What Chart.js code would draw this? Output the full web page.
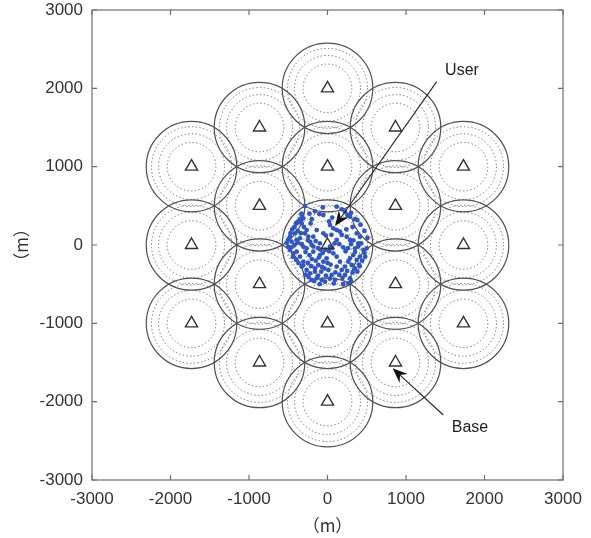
<!DOCTYPE html>
<html>
<head>
<meta charset="utf-8">
<script src="https://cdn.jsdelivr.net/npm/chart.js@4.4.1/dist/chart.umd.min.js"></script>
<style>
  html, body { margin: 0; padding: 0; background: #fff; }
  #wrap { width: 591px; height: 538px; }
</style>
</head>
<body>
<div id="wrap"><canvas id="c" width="591" height="538"></canvas></div>
<script>
// ---- data ----
const axisTicks = [-3000, -2000, -1000, 0, 1000, 2000, 3000];
const baseX = [0, 0, 0, 0, 0, 866, 866, -866, -866, 866, 866, -866, -866, 1732, 1732, 1732, -1732, -1732, -1732];
const baseY = [0, 1000, -1000, 2000, -2000, 500, -500, 500, -500, 1500, -1500, 1500, -1500, 0, 1000, -1000, 0, 1000, -1000];
const cellRadius = 577;
const ringRadii = [510, 420, 310];
const userX = [-287, -104, -53, 117, 181, 223, 253, 287, 380, -329, -351, -372, -393, -329, -308, -215, -266, -287, -414, -478, -499, -457, -393, -351, -244, 32, 74, 117, 159, 181, 244, 287, 117, 32, -53, -138, -181, -96, -202, 372, 414, 393, 457, 499, 351, 329, 287, 266, 308, 372, 414, 223, 181, 223, 287, 266, -478, -436, -393, -351, -308, -329, -266, -223, -202, -138, -74, -32, -159, -117, -53, -11, -96, -181, -266, -308, 11, 53, 96, 117, 159, 117, 74,
  -450, -420, -380, -340, -300, -250, -220, -180, -150, -120, -90, -60, -30, 20, 60, 90, 150, 200, 230, 260, 300, 330, 350, 390, 430, 470, 440, 400, 350, 320, 250, 190, 150, 100, 40, 0, -40, -80, -120, -170, -240, -280, -370, -400, -440, -500, -520, -460, -420, -380, -330, -280, -230, -200, -150, -110, -70, -20, 30, 80, -250, -310, -210, -160, -100, 200, 300, 380, 410, 480, 510, 470, 420, 350, 300, -200, -160, -60, 20, 60, -20, 50, 240, 320, -330, -400, -470, -230];
const userY = [497, 395, 383, 489, 455, 425, 383, 361, 319, 383, 327, 298, 276, 276, 340, 276, 191, 149, 149, 106, 72, 43, 64, 85, 106, 255, 213, 191, 170, 128, 106, 64, 64, -21, 149, 191, 106, 21, 0, 149, 106, 21, -64, -43, -43, -128, -170, -213, -255, -191, -149, -276, -319, -383, -425, -489, -64, -106, -85, -149, -213, -276, -319, -361, -446, -425, -446, -468, -298, -255, -213, -170, -128, -85, -43, -21, -319, -383, -446, -276, -213, -149, -106,
  200, 230, 180, 150, 230, 60, 40, -20, 50, -40, -60, -100, -60, -80, -40, 20, 10, -30, -80, -40, 10, 60, -90, -20, 20, -100, -200, -250, -300, -350, -330, -420, -380, -350, -250, -230, -300, -340, -390, -460, -410, -380, -230, -190, -150, -20, 30, -30, 0, 30, 10, -90, -130, -180, -200, -160, -280, -390, -430, -490, -230, -260, -270, -340, -500, -500, -460, -340, -270, -150, 90, 180, 260, 330, 410, 330, 430, 480, 300, 350, 120, 130, 200, 230, 400, 280, 150, 400];
const notes = [
  { text: 'User', from: [1391, 2085], to: [96, 243], label: [1713, 2221] },
  { text: 'Base', from: [1475, -2170], to: [830, -1574], label: [1815, -2336] }
];
const axisTitle = '（m）';

// ---- chart ----
const FONT = '"Liberation Sans", Arial, Helvetica, sans-serif';
const CJK = '"Noto Sans CJK SC", "Liberation Sans", sans-serif';

const drawPlugin = {
  id: 'cells',
  beforeDatasetsDraw(chart) {
    const { ctx, chartArea: a } = chart;
    const xs = chart.scales.x, ys = chart.scales.y;
    ctx.save();
    ctx.beginPath();
    ctx.rect(a.left, a.top, a.right - a.left, a.bottom - a.top);
    ctx.clip();
    for (let i = 0; i < baseX.length; i++) {
      const cx = xs.getPixelForValue(baseX[i]);
      const cy = ys.getPixelForValue(baseY[i]);
      ctx.strokeStyle = '#6a6a6a';
      ctx.lineWidth = 1;
      ctx.setLineDash([1.3, 2.4]);
      for (const r of ringRadii) {
        const rx = xs.getPixelForValue(baseX[i] + r) - cx;
        const ry = cy - ys.getPixelForValue(baseY[i] + r);
        ctx.beginPath();
        ctx.ellipse(cx, cy, rx, ry, 0, 0, Math.PI * 2);
        ctx.stroke();
      }
      ctx.setLineDash([]);
      ctx.strokeStyle = '#505050';
      ctx.lineWidth = 1.2;
      const rx = xs.getPixelForValue(baseX[i] + cellRadius) - cx;
      const ry = cy - ys.getPixelForValue(baseY[i] + cellRadius);
      ctx.beginPath();
      ctx.ellipse(cx, cy, rx, ry, 0, 0, Math.PI * 2);
      ctx.stroke();
    }
    ctx.restore();
  },
  afterDatasetsDraw(chart) {
    const { ctx, chartArea: a } = chart;
    const xs = chart.scales.x, ys = chart.scales.y;
    ctx.save();
    ctx.strokeStyle = '#6e6e6e';
    ctx.lineWidth = 1.2;
    ctx.strokeRect(a.left, a.top, a.right - a.left, a.bottom - a.top);
    const tl = 5;
    ctx.beginPath();
    for (const v of axisTicks) {
      const px = xs.getPixelForValue(v);
      ctx.moveTo(px, a.bottom); ctx.lineTo(px, a.bottom - tl);
      ctx.moveTo(px, a.top); ctx.lineTo(px, a.top + tl);
      const py = ys.getPixelForValue(v);
      ctx.moveTo(a.left, py); ctx.lineTo(a.left + tl, py);
      ctx.moveTo(a.right, py); ctx.lineTo(a.right - tl, py);
    }
    ctx.stroke();
    for (const n of notes) {
      const x0 = xs.getPixelForValue(n.from[0]), y0 = ys.getPixelForValue(n.from[1]);
      const x1 = xs.getPixelForValue(n.to[0]), y1 = ys.getPixelForValue(n.to[1]);
      const ang = Math.atan2(y1 - y0, x1 - x0);
      const L = 15, W = 6, B = 10;
      ctx.strokeStyle = '#222';
      ctx.lineWidth = 1.1;
      ctx.beginPath();
      ctx.moveTo(x0, y0);
      ctx.lineTo(x1 - Math.cos(ang) * B, y1 - Math.sin(ang) * B);
      ctx.stroke();
      const bx = x1 - Math.cos(ang) * L, by = y1 - Math.sin(ang) * L;
      const nx = -Math.sin(ang), ny = Math.cos(ang);
      ctx.fillStyle = '#111';
      ctx.beginPath();
      ctx.moveTo(x1, y1);
      ctx.lineTo(bx + nx * W, by + ny * W);
      ctx.lineTo(x1 - Math.cos(ang) * B, y1 - Math.sin(ang) * B);
      ctx.lineTo(bx - nx * W, by - ny * W);
      ctx.closePath();
      ctx.fill();
      ctx.fillStyle = '#222';
      ctx.font = '16px ' + FONT;
      ctx.textAlign = 'center';
      ctx.textBaseline = 'middle';
      ctx.fillText(n.text, xs.getPixelForValue(n.label[0]), ys.getPixelForValue(n.label[1]));
    }
    ctx.restore();
  }
};

new Chart(document.getElementById('c'), {
  type: 'scatter',
  data: {
    datasets: [
      {
        label: 'User',
        data: userX.map((x, i) => ({ x, y: userY[i] })),
        pointRadius: 2.4,
        pointBackgroundColor: '#2f56c4',
        pointBorderColor: '#2f56c4',
        pointBorderWidth: 0,
        order: 2
      },
      {
        label: 'Base',
        data: baseX.map((x, i) => ({ x, y: baseY[i] })),
        pointStyle: 'triangle',
        pointRadius: 7,
        pointBackgroundColor: 'rgba(0,0,0,0)',
        pointBorderColor: '#333',
        pointBorderWidth: 1.4,
        order: 1
      }
    ]
  },
  options: {
    responsive: false,
    animation: false,
    devicePixelRatio: 1,
    layout: { padding: { left: 0, top: 10, right: 28, bottom: 0 } },
    plugins: { legend: { display: false }, tooltip: { enabled: false } },
    scales: {
      x: {
        type: 'linear',
        min: -3000, max: 3000,
        afterBuildTicks(s) { s.ticks = axisTicks.map(v => ({ value: v })); },
        afterFit(s) { s.height = 58; s.paddingLeft = 0; s.paddingRight = 0; },
        grid: { display: false, drawTicks: false },
        border: { display: false },
        ticks: { color: '#333', font: { family: FONT, size: 17 }, padding: 9, maxRotation: 0, autoSkip: false, callback: v => String(v) },
        title: { display: true, text: axisTitle, color: '#333', font: { family: CJK, size: 17 }, padding: { top: 0, bottom: 2 } }
      },
      y: {
        type: 'linear',
        min: -3000, max: 3000,
        afterBuildTicks(s) { s.ticks = axisTicks.map(v => ({ value: v })); },
        afterFit(s) { s.width = 92; s.paddingTop = 0; s.paddingBottom = 0; },
        grid: { display: false, drawTicks: false },
        border: { display: false },
        ticks: { color: '#333', font: { family: FONT, size: 17 }, padding: 9, autoSkip: false, callback: v => String(v) },
        title: { display: true, text: axisTitle, color: '#333', font: { family: CJK, size: 17 }, padding: { top: 11, bottom: 0 } }
      }
    }
  },
  plugins: [drawPlugin]
});
</script>
</body>
</html>
